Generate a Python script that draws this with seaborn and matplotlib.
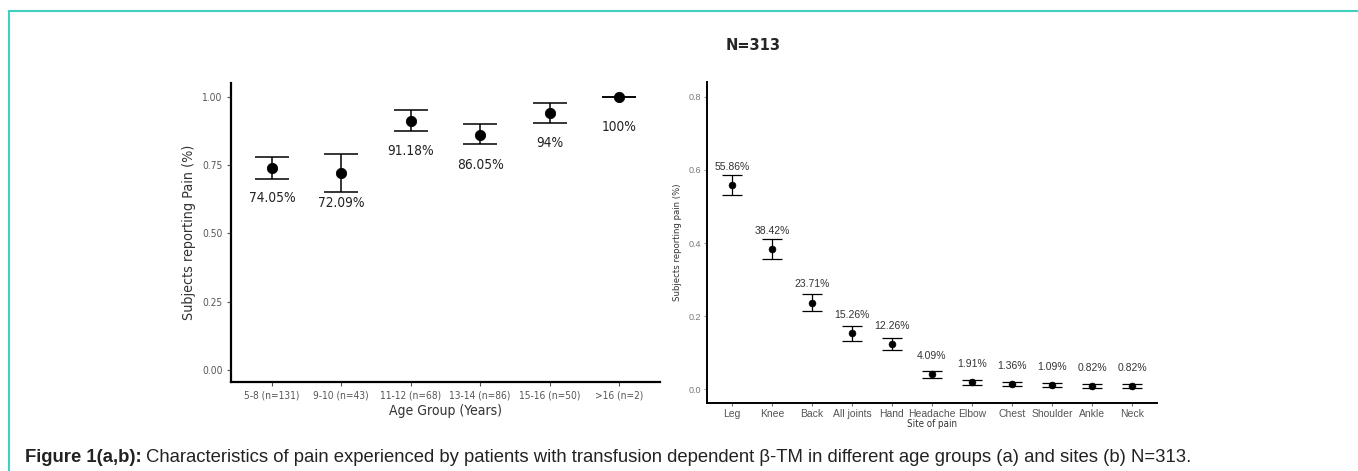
from matplotlib import pyplot as plt
import numpy as np
import pandas as pd
import seaborn as sns

# (a) pain by age group
AGE_GROUPS = ["5-8 (n=131)", "9-10 (n=43)", "11-12 (n=68)", "13-14 (n=86)", "15-16 (n=50)", ">16 (n=2)"]
age_prop = [0.7405, 0.7209, 0.9118, 0.8605, 0.94, 1.00]
age_low = [0.70, 0.65, 0.875, 0.825, 0.905, 1.00]
age_high = [0.78, 0.79, 0.95, 0.90, 0.975, 1.00]
age_text = ["74.05%", "72.09%", "91.18%", "86.05%", "94%", "100%"]

# (b) pain by site
SITES = ["Leg", "Knee", "Back", "All joints", "Hand", "Headache", "Elbow", "Chest", "Shoulder", "Ankle", "Neck"]
site_prop = [0.5586, 0.3842, 0.2371, 0.1526, 0.1226, 0.0409, 0.0191, 0.0136, 0.0109, 0.0082, 0.0082]
site_low = [0.531, 0.357, 0.213, 0.133, 0.106, 0.031, 0.012, 0.008, 0.006, 0.004, 0.004]
site_high = [0.585, 0.410, 0.260, 0.172, 0.140, 0.050, 0.026, 0.020, 0.016, 0.013, 0.013]
site_text = ["55.86%", "38.42%", "23.71%", "15.26%", "12.26%", "4.09%", "1.91%", "1.36%", "1.09%", "0.82%", "0.82%"]

sns.set_style("white")
plt.rcParams['font.family'] = ['DejaVu Sans']
NARROW = dict(family=['DejaVu Sans'], stretch='condensed')
ARIAL = ['Liberation Sans', 'DejaVu Sans']

df_age = pd.DataFrame({"group": AGE_GROUPS, "prop": age_prop, "low": age_low, "high": age_high})
df_site = pd.DataFrame({"site": SITES, "prop": site_prop, "low": site_low, "high": site_high})

fig = plt.figure(figsize=(13.58, 4.71), dpi=100)

# teal frame (open at right and bottom)
fig.add_artist(plt.Line2D([9/1358, 9/1358], [0, 1 - 10.5/471], color='#40d0c0', lw=1.5))
fig.add_artist(plt.Line2D([9/1358, 1], [1 - 10.5/471, 1 - 10.5/471], color='#40d0c0', lw=1.5))

### PANEL A ###
ax1 = fig.add_axes([0.170, 0.189, 0.316, 0.635])
x1 = np.arange(len(AGE_GROUPS))
ax1.errorbar(x1, df_age["prop"], yerr=[df_age["prop"] - df_age["low"], df_age["high"] - df_age["prop"]],
             fmt='none', ecolor='black', elinewidth=1.1, capsize=12, capthick=1.1)
sns.scatterplot(data=df_age, x=x1, y="prop", ax=ax1, color='black', s=55, edgecolor='black', zorder=3)
for i, t in enumerate(age_text):
    ax1.text(x1[i], age_prop[i] - 0.11, t, ha='center', va='center', fontsize=9.8, color='#222222', **NARROW)
ax1.set_xlim(-0.59, 5.59)
ax1.set_ylim(-0.044, 1.05)
ax1.set_xticks(x1)
ax1.set_xticklabels(AGE_GROUPS, **NARROW)
ax1.set_yticks([0, 0.25, 0.5, 0.75, 1.0])
ax1.set_yticklabels(["0.00", "0.25", "0.50", "0.75", "1.00"], **NARROW)
ax1.tick_params(axis='both', labelsize=7.3, colors='#555555', length=3, width=0.8, left=True, bottom=True, pad=3)
ax1.set_xlabel("Age Group (Years)", fontsize=10, color='#333333', labelpad=3, **NARROW)
ax1.set_ylabel("Subjects reporting Pain (%)", fontsize=10.3, color='#333333', labelpad=4, **NARROW)
sns.despine(ax=ax1)
for s in ['left', 'bottom']:
    ax1.spines[s].set_linewidth(1.6)
    ax1.spines[s].set_color('black')

### PANEL B ###
ax2 = fig.add_axes([0.5206, 0.1444, 0.3314, 0.6816])
x2 = np.arange(len(SITES))
ax2.errorbar(x2, df_site["prop"], yerr=[df_site["prop"] - df_site["low"], df_site["high"] - df_site["prop"]],
             fmt='none', ecolor='black', elinewidth=0.9, capsize=7, capthick=0.9)
sns.scatterplot(data=df_site, x=x2, y="prop", ax=ax2, color='black', s=25, edgecolor='black', zorder=3)
for i, t in enumerate(site_text):
    ax2.text(x2[i], site_prop[i] + 0.05, t, ha='center', va='center', fontsize=7.5,
             family=ARIAL, color='#333333')
ax2.set_xlim(-0.625, 10.625)
ax2.set_ylim(-0.038, 0.841)
ax2.set_xticks(x2)
ax2.set_xticklabels(SITES, family=ARIAL)
ax2.set_yticks([0, 0.2, 0.4, 0.6, 0.8])
ax2.set_yticklabels(["0.0", "0.2", "0.4", "0.6", "0.8"], family=ARIAL)
ax2.tick_params(axis='x', labelsize=7.5, colors='#555555', length=2, width=0.6, bottom=True, pad=2)
ax2.tick_params(axis='y', labelsize=6.5, colors='#777777', length=2, width=0.6, left=True, pad=2)
ax2.set_xlabel("Site of pain", fontsize=7, color='#333333', labelpad=0, **NARROW)
ax2.set_ylabel("Subjects reporting pain (%)", fontsize=6.8, color='#333333', labelpad=5, **NARROW)
sns.despine(ax=ax2)
for s in ['left', 'bottom']:
    ax2.spines[s].set_linewidth(1.4)
    ax2.spines[s].set_color('black')

fig.text(753/1358, 1 - 46/471, "N=313", ha='center', va='center', fontsize=10.5, fontweight='bold',
         family=['DejaVu Sans'])

# caption
cap_y = 1 - 457/471
t = fig.text(25/1358, cap_y, "Figure 1(a,b):", fontsize=13.3, fontweight='bold',
             family=ARIAL, va='center', color='#222222')
fig.canvas.draw()
bb = t.get_window_extent()
fig.text(bb.x1 / 1358 + 4/1358, cap_y,
         "Characteristics of pain experienced by patients with transfusion dependent \u03b2-TM in different age groups (a) and sites (b) N=313.",
         fontsize=13.3, family=ARIAL, va='center', color='#222222')

fig.savefig('out.png', dpi=100)
